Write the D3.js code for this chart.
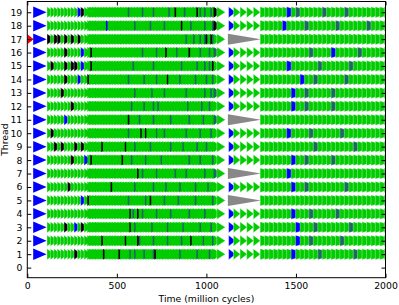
<!DOCTYPE html>
<html>
<head>
<meta charset="utf-8">
<script src="https://cdn.jsdelivr.net/npm/d3@7"></script>
<style>
body { margin: 0; background: #fff; }
text { font-family: "DejaVu Sans", sans-serif; }
</style>
</head>
<body>
<div id="chart"></div>
<script>
// threads shown on the y axis
var threadIds = [1,2,3,4,5,6,7,8,9,10,11,12,13,14,15,16,17,18,19];
var yTicks = [0,1,2,3,4,5,6,7,8,9,10,11,12,13,14,15,16,17,18,19];
var xTicks = [0, 500, 1000, 1500, 2000];

// start of every thread (blue wedge), million cycles
var startSpan = [33, 108];
// thread that got the red marker at t=0
var redThreads = [17];
var redSpan = [0, 36];

// green events shared by all threads, with their durations
var earlyTimes = [110,129,148,167,186,205,224,242,261,280,298,317];
var earlyDur = 44;
var midTimes = [335,344,352,361,370,378,387,396,404,413,422,431,439,448,457,465,474,483,491,500,
  509,518,526,535,544,552,561,570,578,587,596,605,613,622,631,639,648,657,665,674,683,692,700,709,
  718,726,735,744,752,761,770,779,787,796,805,813,822,831,839,848,857,866,874,883,892,900,909,918,
  926,935,944,953,961,970,979,987,996,1005,1013,1022,1031,1040];
var midDur = 45;
var preBlockTimes = [1058];
var preBlockDur = 48;
var resumeTime = 1124;          // blue marker after the pause
var sparseTimes = [1151, 1188, 1225, 1262];
var sparseDur = 40;
var lateTimes = [1300,1325,1349,1374,1399,1424,1448,1473,1498,1523,1547,1572,1597,1622,1646,1671,
  1696,1721,1745,1770,1795,1820,1844,1869,1894,1919,1943,1968,1993];
var lateDur = 105;

// threads that were blocked (grey wedge)
var blockedThreads = [5, 7, 11, 17];
var blockSpan = [1120, 1305];

// coloured events, index = thread - 1
var blackTimes = [
  [253, 422, 508, 713],            // 1
  [412, 540, 612, 910],            // 2
  [211, 305, 566],                 // 3
  [573, 610],                      // 4
  [335, 687],                      // 5
  [222, 462],                      // 6
  [612],                           // 7
  [243, 355, 527],                 // 8
  [155, 186, 270, 298, 415, 540],  // 9
  [130, 630, 660],                 // 10
  [560],                           // 11
  [245],                           // 12
  [183],                           // 13
  [200, 335, 781],                 // 14
  [129, 205, 242, 261, 350, 1035], // 15
  [200, 350, 770, 900],            // 16
  [110, 148, 167, 205, 242, 280, 1000, 1022], // 17
  [853, 1040],                     // 18
  [305, 820, 940, 1040]            // 19
];
var blueTimes = [
  [1482], [1498], [267, 1498], [1473], [298], [1473], [1448], [317, 1473], [298], [1448],
  [205], [1473], [1473], [280, 1523], [298, 1448], [298, 1696], [], [439, 1424], [280, 1448]
];
var tealTimes = [
  [570, 600, 650, 700, 850, 940, 1013, 1620, 1820],
  [620, 700, 780, 860, 979, 1031, 1572, 1745],
  [600, 690, 780, 870, 961, 1022, 1597, 1795],
  [590, 640, 720, 800, 900, 987, 1572, 1721],
  [560, 660, 760, 840, 935, 1031],
  [600, 700, 770, 850, 935, 1005, 1547, 1770],
  [640, 720, 820, 880, 987, 1040],
  [580, 660, 740, 900, 961, 1031, 1547, 1696],
  [600, 680, 800, 870, 944, 996, 1597, 1820],
  [560, 720, 760, 880, 961, 1022, 1572, 1745],
  [620, 700, 800, 900, 979, 1040],
  [580, 650, 700, 726, 892, 970, 1013, 1547, 1696],
  [600, 690, 761, 883, 987, 1022, 1040, 1547, 1696],
  [560, 648, 718, 848, 935, 996, 1031, 1597, 1770],
  [590, 700, 857, 944, 987, 1013, 1622, 1795],
  [640, 718, 831, 961, 1013, 1040, 1572, 1844],
  [883, 926, 961, 987, 1031],
  [600, 683, 761, 905, 987, 1031, 1547, 1721, 1894],
  [561, 639, 700, 787, 874, 961, 987, 1022, 1498, 1646, 1770]
];

var colors = {green: "#00cc00", blue: "#0000ff", black: "#000000", teal: "#1a6a5e", grey: "#888888", red: "#ff0000"};

var margin = {top: 1.5, right: 13.5, bottom: 27.3, left: 27.3},
    width = 399 - margin.left - margin.right,
    height = 305 - margin.top - margin.bottom;

var svg = d3.select("#chart")
  .append("svg")
  .attr("width", 399)
  .attr("height", 305)
  .append("g")
  .attr("transform", "translate(" + margin.left + "," + margin.top + ")");

var x = d3.scaleLinear().domain([0, 2000]).range([0, width]);
var y = d3.scaleLinear().domain([-0.75, 19.8]).range([height, 0]);

svg.append("clipPath").attr("id", "plotclip")
  .append("rect").attr("width", width).attr("height", height);

var H = 11;     // marker height in px

// right-pointing wedge from t0 to t1
function wedge(t0, t1, th, h) {
  var x0 = x(t0), x1 = x(t1), y0 = y(th);
  return "M" + x0 + "," + (y0 - h / 2) + "L" + x1 + "," + y0 + "L" + x0 + "," + (y0 + h / 2) + "Z";
}

function eventsFor(th) {
  var ev = [];
  function add(list, dur, edge) {
    list.forEach(function(t) { ev.push({t: t, d: dur, c: colors.green, edge: edge}); });
  }
  add(earlyTimes, earlyDur, true);
  add(midTimes, midDur, false);
  add(preBlockTimes, preBlockDur, true);
  if (blockedThreads.indexOf(th) >= 0) {
    ev.push({t: blockSpan[0], d: blockSpan[1] - blockSpan[0], c: colors.grey, edge: false, fixed: true});
  } else {
    ev.push({t: resumeTime, d: sparseDur, c: colors.blue, edge: true, fixed: true});
    add(sparseTimes, sparseDur, true);
  }
  add(lateTimes, lateDur, true);
  ev.sort(function(a, b) { return a.t - b.t; });

  // colour the event closest to each marked time
  function mark(list, col) {
    list.forEach(function(t) {
      var best = null;
      ev.forEach(function(e) {
        if (e.fixed) return;
        if (best == null || Math.abs(e.t - t) < Math.abs(best.t - t)) best = e;
      });
      best.c = col;
    });
  }
  mark(tealTimes[th - 1], colors.teal);
  mark(blueTimes[th - 1], colors.blue);
  mark(blackTimes[th - 1], colors.black);
  return ev;
}

var plot = svg.append("g").attr("clip-path", "url(#plotclip)");

threadIds.forEach(function(th) {
  var row = plot.append("g");
  if (redThreads.indexOf(th) >= 0) {
    row.append("path").attr("d", wedge(redSpan[0], redSpan[1], th, 10)).attr("fill", colors.red);
  }
  row.append("path").attr("d", wedge(startSpan[0], startSpan[1], th, 11.5)).attr("fill", colors.blue);

  row.selectAll("path.ev")
    .data(eventsFor(th))
    .enter()
    .append("path")
    .attr("class", "ev")
    .attr("d", function(d) { return wedge(d.t, d.t + d.d, th, H); })
    .attr("fill", function(d) { return d.c; })
    .attr("stroke", function(d) { return d.edge ? "#fff" : "none"; })
    .attr("stroke-width", 0.35);
});

// axes, ticks pointing inwards on all four sides
svg.append("g")
  .attr("transform", "translate(0," + height + ")")
  .call(d3.axisBottom(x).tickValues(xTicks).tickFormat(d3.format("d")).tickSize(-4).tickPadding(5))
  .call(function(g) { g.select(".domain").remove(); });
svg.append("g")
  .call(d3.axisTop(x).tickValues(xTicks).tickSize(-4).tickFormat(""))
  .call(function(g) { g.select(".domain").remove(); });
svg.append("g")
  .call(d3.axisLeft(y).tickValues(yTicks).tickFormat(d3.format("d")).tickSize(-4).tickPadding(5))
  .call(function(g) { g.select(".domain").remove(); });
svg.append("g")
  .attr("transform", "translate(" + width + ",0)")
  .call(d3.axisRight(y).tickValues(yTicks).tickSize(-4).tickFormat(""))
  .call(function(g) { g.select(".domain").remove(); });

svg.selectAll(".tick text").attr("font-size", "9.3px").attr("fill", "#000")
  .attr("font-family", "DejaVu Sans");
svg.selectAll(".tick line").attr("stroke", "#000");

svg.append("rect")
  .attr("width", width).attr("height", height)
  .attr("fill", "none").attr("stroke", "#000").attr("stroke-width", 1);

svg.append("text")
  .attr("x", width / 2).attr("y", height + 24.5)
  .attr("text-anchor", "middle").attr("font-size", "9.3px")
  .text("Time (million cycles)");

svg.append("text")
  .attr("transform", "translate(" + (-19) + "," + (height / 2) + ") rotate(-90)")
  .attr("text-anchor", "middle").attr("font-size", "9.3px")
  .text("Thread");
</script>
</body>
</html>
